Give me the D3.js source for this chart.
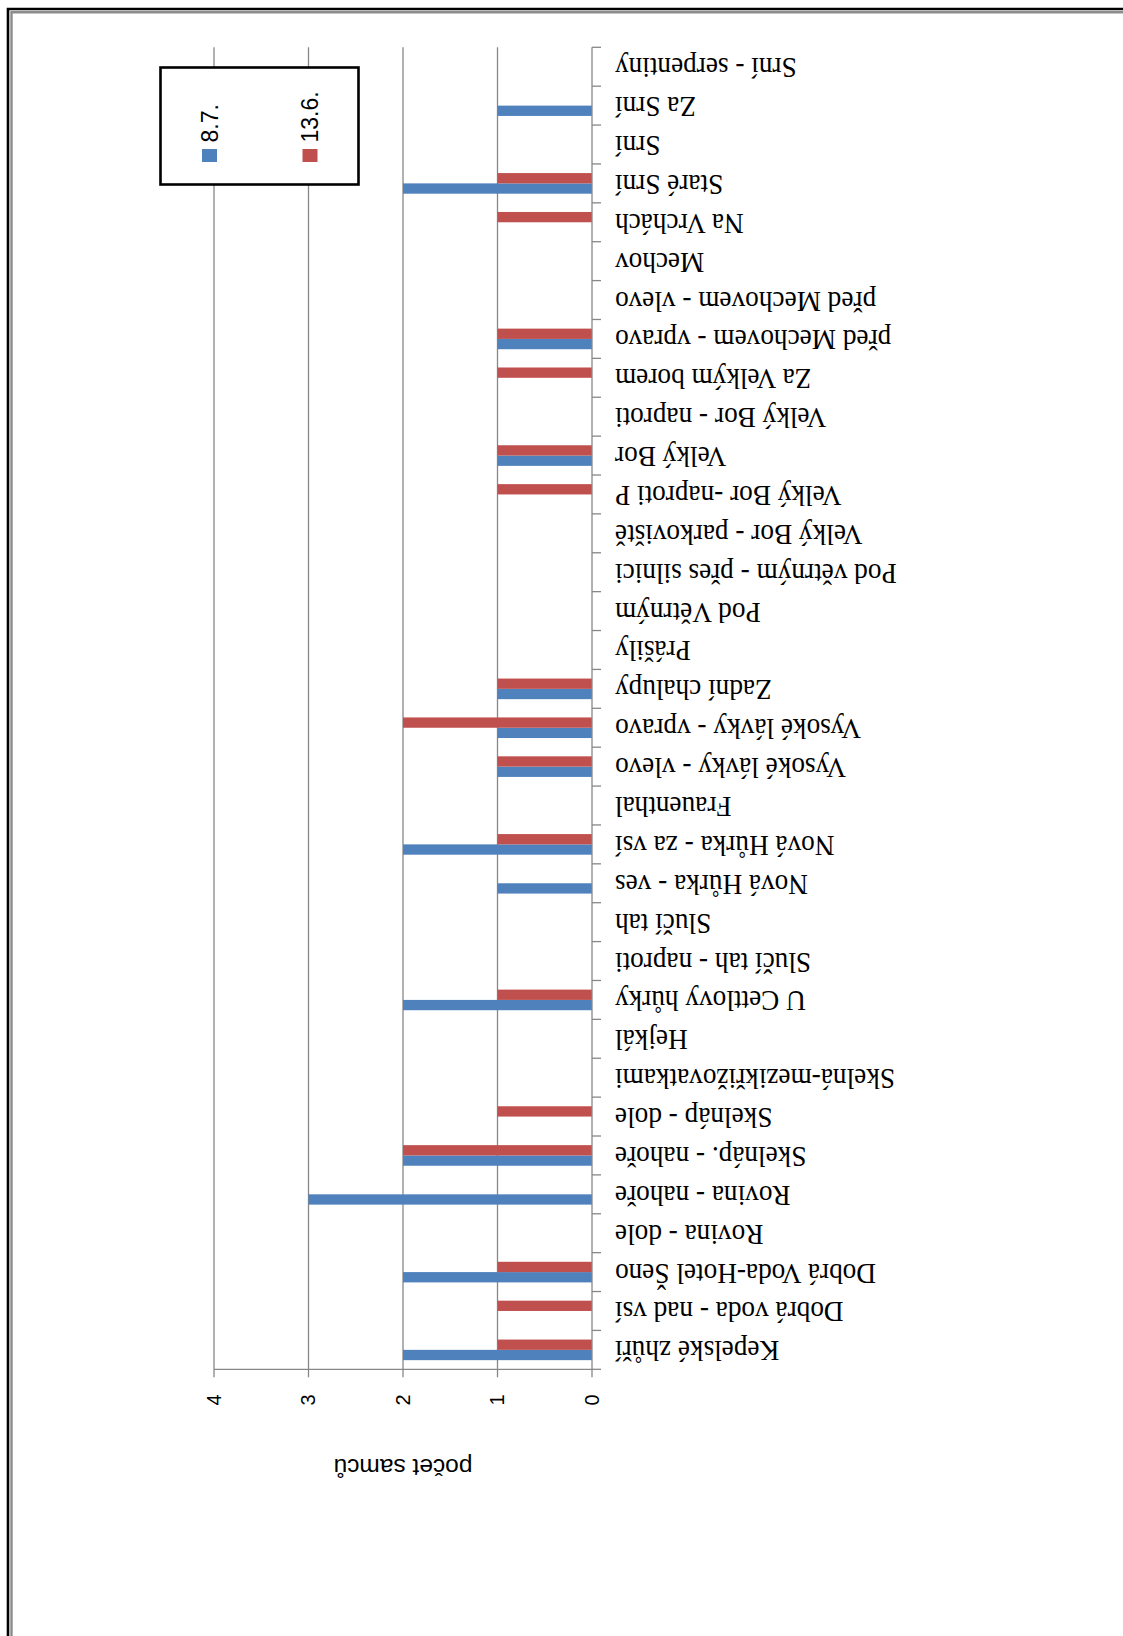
<!DOCTYPE html>
<html>
<head>
<meta charset="utf-8">
<script src="https://cdn.jsdelivr.net/npm/d3@7"></script>
<style>
  html, body { margin: 0; padding: 0; background: #fff; }
  svg { display: block; }
</style>
</head>
<body>
<script>
// Sampling sites, listed from the first category (drawn at the bottom) upward
const categories = [
  "Kepelské zhůří",
  "Dobrá voda - nad vsí",
  "Dobrá Voda-Hotel Šeno",
  "Rovina - dole",
  "Rovina - nahoře",
  "Skelnáp. - nahoře",
  "Skelnáp - dole",
  "Skelná-mezikřižovatkami",
  "Hejkál",
  "U Cettlovy hůrky",
  "Slučí tah - naproti",
  "Slučí tah",
  "Nová Hůrka - ves",
  "Nová Hůrka - za vsí",
  "Frauenthal",
  "Vysoké lávky - vlevo",
  "Vysoké lávky - vpravo",
  "Zadní chalupy",
  "Prášily",
  "Pod Větrným",
  "Pod větrným - přes silnici",
  "Velký Bor - parkoviště",
  "Velký Bor -naproti P",
  "Velký Bor",
  "Velký Bor - naproti",
  "Za Velkým borem",
  "před Mechovem - vpravo",
  "před Mechovem - vlevo",
  "Mechov",
  "Na Vrchách",
  "Staré Srní",
  "Srní",
  "Za Srní",
  "Srní - serpentiny"
];

// Number of males counted on each date
const seriesNames = ["8.7.", "13.6."];
const values87  = [2,0,2,0,3,2,0,0,0,2,0,0,1,2,0,1,1,1,0,0,0,0,0,1,0,0,1,0,0,0,2,0,1,0];
const values136 = [1,1,1,0,0,2,1,0,0,1,0,0,0,1,0,1,2,1,0,0,0,0,1,1,0,1,1,0,0,1,1,0,0,0];
const seriesColors = ["#4F81BD", "#C0504D"];

const valueTicks = [0, 1, 2, 3, 4];
const axisTitle = "počet samců";

const W = 1123, H = 1636;
const svg = d3.select("body").append("svg")
  .attr("width", W).attr("height", H)
  .attr("viewBox", `0 0 ${W} ${H}`);

svg.append("rect").attr("width", W).attr("height", H).attr("fill", "#fff");

// Page frame: dark outer edge with a grey inner edge on top and left
svg.append("path").attr("d", `M8,${H} L8,9 L${W},9`)
  .attr("fill", "none").attr("stroke", "#000").attr("stroke-width", 2.6);
svg.append("path").attr("d", `M11.5,${H} L11.5,12.3 L${W},12.3`)
  .attr("fill", "none").attr("stroke", "#8c8c8c").attr("stroke-width", 2.4);

// Scales: value runs leftward from the category axis, categories stack upward
const plotTop = 47.3, plotBottom = 1369.3;
const x = d3.scaleLinear().domain([0, 4]).range([592, 214]);
const y = d3.scaleBand().domain(categories).range([plotBottom, plotTop]).padding(0);
const groupW = y.bandwidth() * 0.53;
const inner = d3.scaleBand().domain(["13.6.", "8.7."]).range([0, groupW]);

const gridColor = "#878787";

// Gridlines
svg.append("g").selectAll("line")
  .data(valueTicks.filter(d => d > 0))
  .join("line")
  .attr("x1", d => x(d)).attr("x2", d => x(d))
  .attr("y1", plotTop).attr("y2", plotBottom)
  .attr("stroke", gridColor).attr("stroke-width", 1.3);

// Bars
const rows = categories.map((c, i) => ({ c, v: [values87[i], values136[i]] }));
const barG = svg.append("g");
seriesNames.forEach((s, si) => {
  barG.append("g").selectAll("rect")
    .data(rows)
    .join("rect")
    .attr("x", d => x(d.v[si]))
    .attr("width", d => x(0) - x(d.v[si]))
    .attr("y", d => y(d.c) + (y.bandwidth() - groupW) / 2 + inner(s))
    .attr("height", inner.bandwidth())
    .attr("fill", seriesColors[si]);
});

// Category axis line with boundary ticks
const axG = svg.append("g").attr("stroke", gridColor).attr("stroke-width", 1.3);
axG.append("line")
  .attr("x1", x(0)).attr("x2", x(0))
  .attr("y1", plotTop).attr("y2", plotBottom);
const bounds = [plotTop].concat(categories.map(c => y(c) + y.bandwidth()));
axG.selectAll("line.tk").data(bounds).join("line").attr("class", "tk")
  .attr("x1", x(0)).attr("x2", x(0) + 9)
  .attr("y1", d => d).attr("y2", d => d);

// Value axis line with ticks
axG.append("line")
  .attr("x1", x(4)).attr("x2", x(0))
  .attr("y1", plotBottom).attr("y2", plotBottom);
axG.selectAll("line.vt").data(valueTicks).join("line").attr("class", "vt")
  .attr("x1", d => x(d)).attr("x2", d => x(d))
  .attr("y1", plotBottom).attr("y2", plotBottom + 8);

// Value tick labels, turned a quarter anticlockwise
svg.append("g").selectAll("text")
  .data(valueTicks)
  .join("text")
  .attr("transform", d => `translate(${x(d) + 6.5},1400) rotate(-90)`)
  .attr("text-anchor", "middle")
  .attr("font-family", "'Liberation Sans', Arial, sans-serif")
  .attr("font-size", 20)
  .attr("fill", "#000")
  .text(d => d);

// Category labels, upside down, ending next to the axis
svg.append("g").selectAll("text")
  .data(categories)
  .join("text")
  .attr("transform", d => `translate(615,${y(d) + y.bandwidth() / 2 - 8.5}) rotate(180) scale(1.01,1.08)`)
  .attr("text-anchor", "end")
  .attr("font-family", "'Liberation Serif', 'Times New Roman', serif")
  .attr("font-size", 27)
  .attr("fill", "#000")
  .text(d => d);

// Axis title
svg.append("text")
  .attr("transform", `translate(${(x(0) + x(4)) / 2},1459) rotate(180)`)
  .attr("text-anchor", "middle")
  .attr("font-family", "'Liberation Sans', Arial, sans-serif")
  .attr("font-size", 24.5)
  .attr("fill", "#000")
  .text(axisTitle);

// Legend
const lg = svg.append("g");
lg.append("rect")
  .attr("x", 160.5).attr("y", 67.5).attr("width", 198).attr("height", 117)
  .attr("fill", "#fff").attr("stroke", "#000").attr("stroke-width", 2.6);
const legendX = [209.5, 310];
seriesNames.forEach((s, i) => {
  lg.append("rect")
    .attr("x", legendX[i] - 7.5).attr("y", 149)
    .attr("width", 15).attr("height", 13)
    .attr("fill", seriesColors[i]);
  lg.append("text")
    .attr("transform", `translate(${legendX[i] + 8},142.5) rotate(-90)`)
    .attr("font-family", "'Liberation Sans', Arial, sans-serif")
    .attr("font-size", 23)
    .attr("fill", "#000")
    .text(s);
});
</script>
</body>
</html>
